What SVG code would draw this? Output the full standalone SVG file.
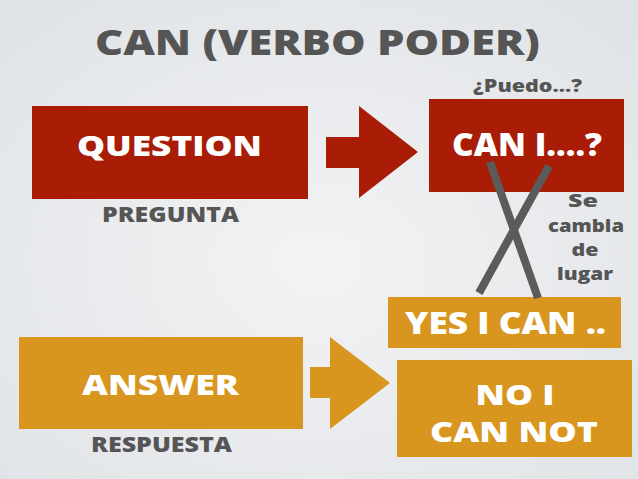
<svg xmlns="http://www.w3.org/2000/svg" width="638" height="479" viewBox="0 0 638 479">
<defs>
<radialGradient id="bg" cx="0.5" cy="0.55" r="0.75">
<stop offset="0" stop-color="#f2f3f4"/>
<stop offset="1" stop-color="#dfe2e6"/>
</radialGradient>
<style>
text{font-family:"Open Sans",Lato,"Liberation Sans",sans-serif;font-weight:800;text-anchor:middle}
.w{fill:#ffffff}
.g{fill:#555555}
.red{fill:#a91c06}
.org{fill:#d9961e}
.x{stroke:#5b5b5b;stroke-width:8}
.n{font-size:17.5px}
</style>
</defs>
<rect width="638" height="479" fill="url(#bg)"/>
<text class="g" x="317.5" y="55" font-size="35" textLength="445" lengthAdjust="spacingAndGlyphs">CAN (VERBO PODER)</text>
<g id="question">
<rect class="red" x="32" y="106" width="276" height="93"/>
<text class="w" x="169.5" y="156" font-size="28" textLength="185" lengthAdjust="spacingAndGlyphs">QUESTION</text>
<text class="g" x="170.5" y="222" font-size="21" textLength="137" lengthAdjust="spacingAndGlyphs">PREGUNTA</text>
</g>
<g id="can-i">
<text class="g" x="527.5" y="92" font-size="18" textLength="109" lengthAdjust="spacingAndGlyphs">¿Puedo...?</text>
<rect class="red" x="429" y="99" width="195" height="93"/>
<text class="w" x="527" y="156" font-size="31" textLength="150" lengthAdjust="spacingAndGlyphs">CAN I....?</text>
</g>
<g id="answer">
<rect class="org" x="19" y="337" width="284" height="92"/>
<text class="w" x="160.5" y="395" font-size="28" textLength="157" lengthAdjust="spacingAndGlyphs">ANSWER</text>
<text class="g" x="161.5" y="452" font-size="21" textLength="141" lengthAdjust="spacingAndGlyphs">RESPUESTA</text>
</g>
<g id="yes">
<rect class="org" x="388" y="297" width="233" height="51"/>
<text class="w" x="505.5" y="334" font-size="30" textLength="201" lengthAdjust="spacingAndGlyphs">YES I CAN ..</text>
</g>
<g id="no">
<rect class="org" x="397" y="360" width="235" height="97"/>
<text class="w" x="515" y="405" font-size="29" textLength="79" lengthAdjust="spacingAndGlyphs">NO I</text>
<text class="w" x="514" y="442" font-size="29" textLength="168" lengthAdjust="spacingAndGlyphs">CAN NOT</text>
</g>
<g id="connectors">
<polygon class="red" points="326,137 359,137 359,106 418,152 359,198 359,168 326,168"/>
<polygon class="org" points="310,367 330,367 330,337 390,383 330,429 330,398 310,398"/>
<line class="x" x1="490" y1="162" x2="538" y2="298"/>
<line class="x" x1="549" y1="166" x2="479" y2="293"/>
</g>
<g id="note">
<text class="g n" x="583" y="207" textLength="30" lengthAdjust="spacingAndGlyphs">Se</text>
<text class="g n" x="586" y="232" textLength="76" lengthAdjust="spacingAndGlyphs">cambia</text>
<text class="g n" x="585" y="256" textLength="27" lengthAdjust="spacingAndGlyphs">de</text>
<text class="g n" x="585" y="280" textLength="56" lengthAdjust="spacingAndGlyphs">lugar</text>
</g>
</svg>
